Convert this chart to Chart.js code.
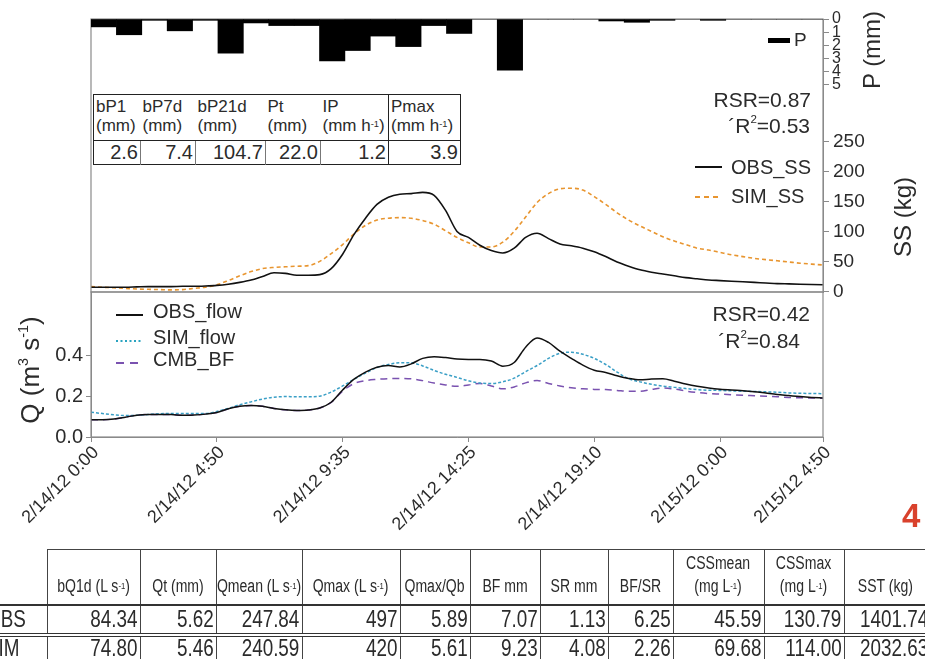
<!DOCTYPE html>
<html>
<head>
<meta charset="utf-8">
<script src="https://cdn.jsdelivr.net/npm/chart.js@4.4.1/dist/chart.umd.min.js"></script>
<style>
html,body{margin:0;padding:0;background:#fff;}
#wrap{position:relative;width:925px;height:659px;overflow:hidden;font-family:"Liberation Sans",Arial,sans-serif;color:#2b2b2b;background:#fff;}
#wrap canvas{position:absolute;left:0;top:0;}
.t{position:absolute;white-space:nowrap;line-height:1;}
.rot{position:absolute;width:220px;text-align:center;white-space:nowrap;line-height:1;transform:rotate(-90deg);transform-origin:center center;}
sup{font-size:55%;vertical-align:top;position:relative;top:-0.1em;}
#pstat{position:absolute;left:93px;top:94px;width:367px;border-collapse:collapse;table-layout:fixed;border:1.5px solid #222;background:#fff;}
#pstat td{padding:0;overflow:hidden;}
#pstat .h{height:43px;vertical-align:top;font-size:17px;line-height:19px;padding:2px 0 0 2px;color:#2b2b2b;}
#pstat .v{height:22px;font-size:20px;text-align:right;padding-right:2px;border-top:1.5px solid #222;border-left:1px solid #777;color:#2b2b2b;}
#sum{position:absolute;left:-30px;top:549px;width:957px;border-collapse:collapse;table-layout:fixed;}
#sum td{padding:0;overflow:hidden;white-space:nowrap;}
#sum .h{height:48px;vertical-align:bottom;font-size:18px;line-height:23px;padding-bottom:6px;border-left:1px solid #444;border-top:1px solid #444;}
#sum .h0{border-top:none;border-left:none;}
#sum .hc{display:flex;justify-content:center;align-items:flex-end;}
#sum .hc .sx{transform:scaleX(0.78);}
#sum .r1 td{height:21px;border-top:2px solid #333;border-bottom:4px double #333;}
#sum .r2 td{height:27px;vertical-align:top;line-height:22px;}
#sum .c{font-size:23px;text-align:right;padding-right:2px;border-left:1px solid #444;}
#sum .lab{font-size:23px;text-align:left;padding-left:16px;}
.sx{display:inline-block;transform:scaleX(0.82);}
.sxr{transform-origin:right center;}
.sxl{transform-origin:left center;}
.sxc{transform-origin:center center;text-align:center;}
</style>
</head>
<body>
<div id="wrap">
  <canvas id="cSS" width="925" height="659"></canvas>
  <canvas id="cQ" width="925" height="659"></canvas>
  <canvas id="cP" width="925" height="659"></canvas>

  <!-- rainfall legend -->
  <div class="t" style="left:768px;top:38px;width:22px;height:5px;background:#000"></div>
  <div class="t" style="left:794px;top:30px;font-size:19px;">P</div>

  <!-- rainfall event statistics -->
  <table id="pstat"></table>

  <!-- sediment panel statistics and legend -->
  <div class="t" style="right:114px;top:89px;font-size:21px;">RSR=0.87</div>
  <div class="t" style="right:115px;top:115px;font-size:21px;">´R<sup>2</sup>=0.53</div>
  <svg class="t" style="left:695px;top:162px" width="28" height="10"><line x1="0" y1="5" x2="27" y2="5" stroke="#111" stroke-width="2"/></svg>
  <div class="t" style="left:731px;top:157px;font-size:20px;">OBS_SS</div>
  <svg class="t" style="left:695px;top:192px" width="28" height="10"><line x1="0" y1="5" x2="27" y2="5" stroke="#e8952f" stroke-width="2" stroke-dasharray="5,4"/></svg>
  <div class="t" style="left:731px;top:186px;font-size:20px;">SIM_SS</div>

  <!-- flow panel statistics and legend -->
  <div class="t" style="right:115px;top:303px;font-size:21px;">RSR=0.42</div>
  <div class="t" style="right:125px;top:330px;font-size:21px;">´R<sup>2</sup>=0.84</div>
  <svg class="t" style="left:116px;top:310px" width="28" height="10"><line x1="0" y1="5" x2="27" y2="5" stroke="#111" stroke-width="2"/></svg>
  <div class="t" style="left:153px;top:301px;font-size:20px;">OBS_flow</div>
  <svg class="t" style="left:116px;top:336px" width="28" height="10"><line x1="0" y1="5" x2="27" y2="5" stroke="#2aa3c0" stroke-width="2.2" stroke-dasharray="2,2.5"/></svg>
  <div class="t" style="left:153px;top:327px;font-size:20px;">SIM_flow</div>
  <svg class="t" style="left:116px;top:358px" width="28" height="10"><line x1="0" y1="5" x2="27" y2="5" stroke="#7a52b0" stroke-width="2" stroke-dasharray="8,6"/></svg>
  <div class="t" style="left:153px;top:349px;font-size:20px;">CMB_BF</div>

  <!-- axis titles -->
  <div class="rot" style="left:762px;top:38px;font-size:24px;">P (mm)</div>
  <div class="rot" style="left:793px;top:205px;font-size:24px;">SS (kg)</div>
  <div class="rot" style="left:-80px;top:357px;font-size:26px;">Q (m<sup>3</sup> s<sup>-1</sup>)</div>

  <div class="t" style="left:902px;top:499px;font-size:33px;font-weight:bold;color:#d9412c;">4</div>

  <!-- event summary table -->
  <table id="sum"></table>
</div>

<script>
// ---- hourly rainfall (mm), first bar starts at 2/14/12 0:00 ----
const rainfall = [0.6, 1.2, 0.1, 0.9, 0.1, 2.6, 0.3, 0.5, 0.5, 3.2, 2.4, 1.3, 2.1, 0.5, 1.1, 0, 3.9,
                  0, 0, 0, 0.15, 0.25, 0.1, 0, 0.1, 0, 0, 0, 0];
const rainSpanHours = 28.83;           // 2/14/12 0:00 -> 2/15/12 4:50
const rainTicks = [0, 1, 2, 3, 4, 5];

// ---- time steps shared by the sediment and flow series ----
const tickIndex  = [0, 11, 22, 33, 44, 55, 64];
const tickLabels = ['2/14/12 0:00', '2/14/12 4:50', '2/14/12 9:35', '2/14/12 14:25',
                    '2/14/12 19:10', '2/15/12 0:00', '2/15/12 4:50'];

// ---- suspended sediment (kg) ----
const obsSS = [7, 7, 7, 7, 7.5, 8, 8, 8, 8.5, 8.5, 9, 10, 12, 15, 19, 25, 31, 30, 27, 27, 28, 38,
               62, 95, 122, 145, 157, 162, 163, 165, 160, 135, 100, 90, 77, 68, 64, 72, 90, 97, 88,
               79, 76, 72, 66, 58, 49, 42, 36, 32, 29, 26, 23, 21, 19, 18, 17, 16, 15, 14, 13, 12.5,
               12, 11.5, 11];
const simSS = [8, 7, 6, 5, 4, 3.5, 3, 2.5, 3, 5, 7, 11, 18, 26, 33, 38, 40, 41, 42, 43, 50, 63, 78,
               96, 110, 119, 122, 123, 122, 118, 112, 101, 90, 81, 74, 74, 82, 100, 124, 148, 163,
               171, 172, 169, 158, 145, 131, 119, 109, 100, 91, 84, 78, 72, 69, 65, 61, 58, 55, 53,
               51, 49, 47, 45.5, 44];
const ssTicks = [0, 50, 100, 150, 200, 250];

// ---- discharge (m3/s) ----
const obsFlow = [0.085, 0.085, 0.088, 0.097, 0.107, 0.11, 0.11, 0.11, 0.106, 0.108, 0.112, 0.12,
                 0.138, 0.15, 0.154, 0.15, 0.14, 0.133, 0.13, 0.132, 0.142, 0.17, 0.23, 0.283, 0.318,
                 0.342, 0.35, 0.343, 0.358, 0.385, 0.393, 0.389, 0.382, 0.38, 0.38, 0.372, 0.347,
                 0.365, 0.44, 0.485, 0.463, 0.42, 0.385, 0.352, 0.327, 0.316, 0.3, 0.287, 0.28,
                 0.284, 0.285, 0.273, 0.259, 0.248, 0.24, 0.234, 0.23, 0.227, 0.222, 0.215, 0.208,
                 0.203, 0.198, 0.194, 0.191];
const simFlow = [0.121, 0.115, 0.109, 0.105, 0.106, 0.11, 0.114, 0.115, 0.115, 0.115, 0.115, 0.125,
                 0.14, 0.158, 0.172, 0.186, 0.195, 0.198, 0.197, 0.197, 0.2, 0.22, 0.25, 0.283, 0.313,
                 0.34, 0.355, 0.363, 0.363, 0.348, 0.326, 0.307, 0.292, 0.275, 0.264, 0.262, 0.27,
                 0.288, 0.32, 0.35, 0.385, 0.41, 0.415, 0.405, 0.385, 0.355, 0.318, 0.285, 0.27,
                 0.258, 0.249, 0.243, 0.237, 0.232, 0.229, 0.228, 0.226, 0.224, 0.223, 0.221, 0.219,
                 0.216, 0.214, 0.213, 0.212];
const cmbBF = [0.085, 0.085, 0.088, 0.097, 0.107, 0.11, 0.11, 0.11, 0.106, 0.108, 0.112, 0.12,
               0.138, 0.15, 0.154, 0.15, 0.14, 0.133, 0.13, 0.132, 0.142, 0.17, 0.225, 0.262, 0.276,
               0.282, 0.286, 0.287, 0.285, 0.276, 0.264, 0.255, 0.248, 0.255, 0.262, 0.25, 0.236,
               0.245, 0.265, 0.277, 0.262, 0.25, 0.241, 0.236, 0.233, 0.232, 0.228, 0.224, 0.224,
               0.233, 0.24, 0.235, 0.225, 0.218, 0.213, 0.21, 0.207, 0.204, 0.202, 0.2, 0.197,
               0.194, 0.192, 0.191, 0.19];
const qTicks = [0, 0.2, 0.4];

// ---- rainfall event statistics ----
const rainStatHeads = ['bP1<br>(mm)', 'bP7d<br>(mm)', 'bP21d<br>(mm)', 'Pt<br>(mm)',
                       'IP<br>(mm h<sup>-1</sup>)', 'Pmax<br>(mm h<sup>-1</sup>)'];
const rainStatVals  = ['2.6', '7.4', '104.7', '22.0', '1.2', '3.9'];
const rainStatWidths = [47, 55, 70, 55, 68, 72];

// ---- event summary ----
const sumHeads = ['bQ1d (L s<sup>-1</sup>)', 'Qt (mm)', 'Qmean (L s<sup>-1</sup>)', 'Qmax (L s<sup>-1</sup>)',
                  'Qmax/Qb', 'BF mm', 'SR mm', 'BF/SR', 'CSSmean<br>(mg L<sup>-1</sup>)',
                  'CSSmax<br>(mg L<sup>-1</sup>)', 'SST (kg)'];
const sumRowNames = ['OBS', 'SIM'];
const sumObs = ['84.34', '5.62', '247.84', '497', '5.89', '7.07', '1.13', '6.25', '45.59', '130.79', '1401.74'];
const sumSim = ['74.80', '5.46', '240.59', '420', '5.61', '9.23', '4.08', '2.26', '69.68', '114.00', '2032.63'];
const sumWidths = [77, 93, 76, 86, 98, 70, 70, 68, 65, 91, 80, 83];

// ---------- tables ----------
(function buildTables() {
  const ps = document.getElementById('pstat');
  let cg = '<colgroup>' + rainStatWidths.map(w => `<col style="width:${w}px">`).join('') + '</colgroup>';
  let h = '<tr>' + rainStatHeads.map((t, i) =>
    `<td class="h" style="${i === 5 ? 'border-left:1.5px solid #222;' : ''}">${t}</td>`).join('') + '</tr>';
  let v = '<tr>' + rainStatVals.map((t, i) =>
    `<td class="v" style="${i === 0 ? 'border-left:none;' : ''}${i === 5 ? 'border-left:1.5px solid #222;' : ''}">${t}</td>`).join('') + '</tr>';
  ps.innerHTML = cg + h + v;

  const st = document.getElementById('sum');
  let c2 = '<colgroup>' + sumWidths.map(w => `<col style="width:${w}px">`).join('') + '</colgroup>';
  let hr = '<tr><td class="h h0"></td>' + sumHeads.map(t =>
    `<td class="h"><div class="hc"><span class="sx sxc">${t}</span></div></td>`).join('') + '</tr>';
  const row = (name, vals, cls) => `<tr class="${cls}"><td class="lab"><span class="sx sxl">${name}</span></td>` +
    vals.map(t => `<td class="c"><span class="sx sxr">${t}</span></td>`).join('') + '</tr>';
  st.innerHTML = c2 + hr + row(sumRowNames[0], sumObs, 'r1') + row(sumRowNames[1], sumSim, 'r2');
})();

// ---------- charts ----------
const W = 925, H = 659;
const LEFT = 91, RIGHT = 823, TOP = 19, MID = 292, BOTTOM = 437;
const AXIS = '#8a8a8a', TXT = '#2b2b2b';

const framePlugin = {
  id: 'frame',
  afterDraw(chart) {
    const a = chart.chartArea, ctx = chart.ctx;
    ctx.save();
    ctx.strokeStyle = AXIS;
    ctx.lineWidth = 1.2;
    ctx.strokeRect(a.left, a.top, a.right - a.left, a.bottom - a.top);
    ctx.restore();
  }
};

const base = {
  responsive: false,
  animation: false,
  devicePixelRatio: 1,
  plugins: { legend: { display: false }, tooltip: { enabled: false } },
  elements: { point: { radius: 0 } }
};

const xy = arr => arr.map((v, i) => ({ x: i, y: v }));

// Rainfall hyetograph hanging from the top of the frame
new Chart(document.getElementById('cP'), {
  type: 'bar',
  data: {
    datasets: [{
      label: 'P',
      data: rainfall.map((v, k) => ({ x: k + 0.5, y: v })),
      backgroundColor: '#000',
      borderWidth: 0,
      barPercentage: 1,
      categoryPercentage: 1,
      yAxisID: 'p'
    }]
  },
  options: Object.assign({}, base, {
    layout: { padding: { left: LEFT, top: TOP, right: 0, bottom: H - 86 } },
    scales: {
      x: { type: 'linear', min: 0, max: rainSpanHours, display: false, offset: false },
      p: {
        position: 'right', reverse: true, min: 0, max: 5.1,
        afterFit(s) { s.width = W - RIGHT; },
        afterBuildTicks(s) { s.ticks = rainTicks.map(v => ({ value: v })); },
        ticks: { autoSkip: false, font: { size: 16, family: 'Liberation Sans' }, color: TXT, padding: 3 },
        grid: { drawOnChartArea: false, tickLength: 6, color: AXIS },
        border: { display: true, color: AXIS }
      }
    }
  })
});

// Suspended sediment, observed vs simulated
new Chart(document.getElementById('cSS'), {
  type: 'line',
  data: {
    datasets: [
      { label: 'OBS_SS', data: xy(obsSS), borderColor: '#111', borderWidth: 1.6,
        cubicInterpolationMode: 'monotone', yAxisID: 'ss' },
      { label: 'SIM_SS', data: xy(simSS), borderColor: '#e8952f', borderWidth: 1.6,
        borderDash: [4, 3], cubicInterpolationMode: 'monotone', yAxisID: 'ss' }
    ]
  },
  options: Object.assign({}, base, {
    layout: { padding: { left: LEFT, top: TOP, right: 0, bottom: H - MID } },
    scales: {
      x: { type: 'linear', min: 0, max: 64, display: false },
      ss: {
        position: 'right', min: -1, max: 454,
        afterFit(s) { s.width = W - RIGHT; },
        afterBuildTicks(s) { s.ticks = ssTicks.map(v => ({ value: v })); },
        ticks: { autoSkip: false, font: { size: 19, family: 'Liberation Sans' }, color: TXT, padding: 4 },
        grid: { drawOnChartArea: false, tickLength: 6, color: AXIS },
        border: { display: true, color: AXIS }
      }
    }
  }),
  plugins: [framePlugin]
});

// Discharge: observed, simulated and baseflow
new Chart(document.getElementById('cQ'), {
  type: 'line',
  data: {
    datasets: [
      { label: 'OBS_flow', data: xy(obsFlow), borderColor: '#111', borderWidth: 1.5,
        cubicInterpolationMode: 'monotone' },
      { label: 'SIM_flow', data: xy(simFlow), borderColor: '#3a9fc6', borderWidth: 1.5,
        borderDash: [3, 2], cubicInterpolationMode: 'monotone' },
      { label: 'CMB_BF', data: xy(cmbBF), borderColor: '#7a52b0', borderWidth: 1.5,
        borderDash: [7, 5], cubicInterpolationMode: 'monotone' }
    ]
  },
  options: Object.assign({}, base, {
    layout: { padding: { left: 0, top: MID, right: W - RIGHT, bottom: 0 } },
    scales: {
      x: {
        type: 'linear', min: 0, max: 64,
        afterFit(s) { s.height = H - BOTTOM; },
        afterBuildTicks(s) { s.ticks = tickIndex.map(v => ({ value: v })); },
        ticks: {
          autoSkip: false, minRotation: 45, maxRotation: 45, padding: 0, labelOffset: 5,
          font: { size: 18, family: 'Liberation Sans' }, color: TXT,
          callback: (v, i) => tickLabels[i]
        },
        grid: { drawOnChartArea: false, tickLength: 5, color: AXIS },
        border: { display: true, color: AXIS }
      },
      y: {
        position: 'left', min: 0, max: 0.71,
        afterFit(s) { s.width = LEFT; },
        afterBuildTicks(s) { s.ticks = qTicks.map(v => ({ value: v })); },
        ticks: { autoSkip: false, font: { size: 20, family: 'Liberation Sans' }, color: TXT, padding: 3,
                 callback: v => v.toFixed(1) },
        grid: { drawOnChartArea: false, tickLength: 5, color: AXIS },
        border: { display: true, color: AXIS }
      }
    }
  }),
  plugins: [framePlugin]
});
</script>
</body>
</html>
